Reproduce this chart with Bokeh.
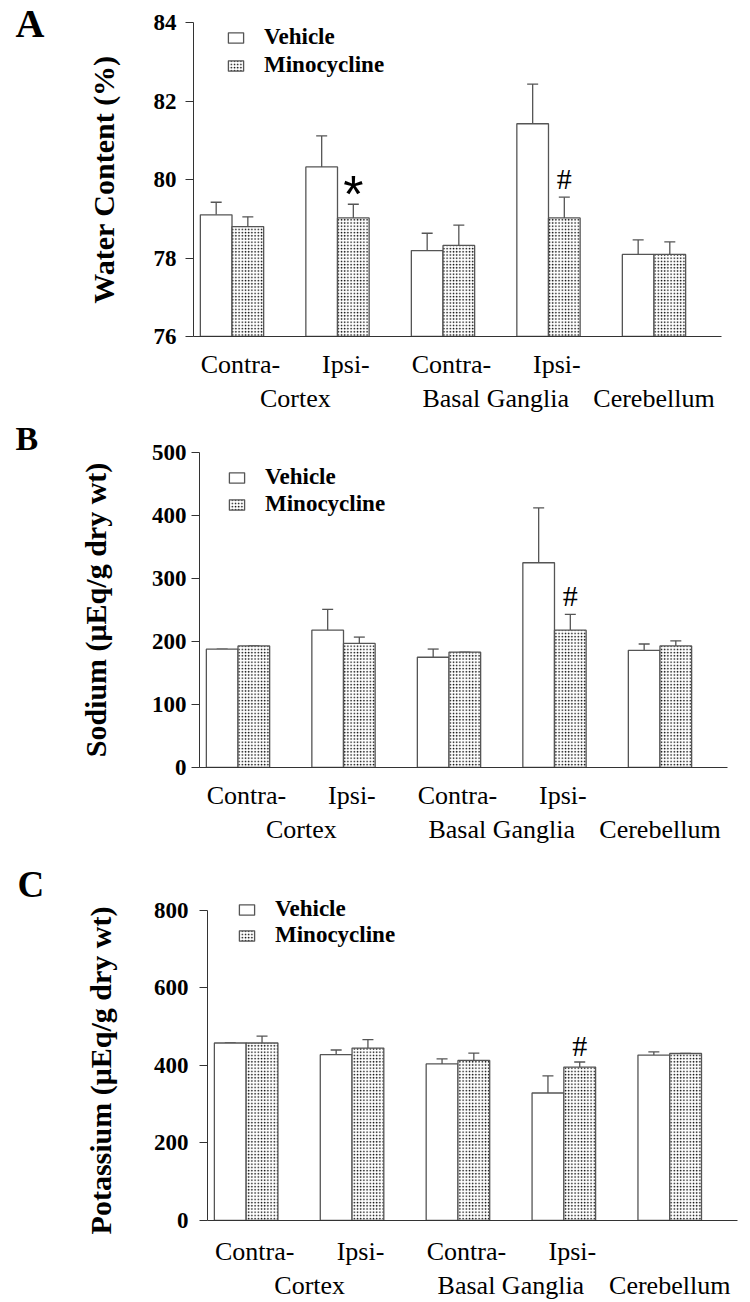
from bokeh.plotting import figure
from bokeh.layouts import column, row
from bokeh.models import (FixedTicker, LinearAxis, Range1d, Legend, LegendItem,
                          Label, ColumnDataSource)
from bokeh.core.properties import value
from bokeh.embed import file_html
from bokeh.resources import INLINE

# ---------------- data ----------------
group_pos = [1, 2, 3, 4, 5]
line1_labels = ["Contra-", "Ipsi-", "Contra-", "Ipsi-"]
line2_labels = ["Cortex", "Basal Ganglia", "Cerebellum"]
series = ["Vehicle", "Minocycline"]

water_vehicle = [79.10, 80.32, 78.19, 81.42, 78.09]
water_vehicle_top = [79.42, 81.11, 78.63, 82.43, 78.46]   # mean + SD
water_mino = [78.80, 79.02, 78.32, 79.02, 78.09]
water_mino_top = [79.05, 79.37, 78.84, 79.55, 78.41]
water_ticks = [76, 78, 80, 82, 84]
water_marks = ["*", "#"]
water_mark_groups = [2, 4]
water_mark_y = [79.82, 80.03]

sodium_vehicle = [188, 218, 175, 325, 186]
sodium_vehicle_top = [188, 251, 188, 412, 196]
sodium_mino = [193, 197, 183, 218, 193]
sodium_mino_top = [193, 207, 183, 243, 201]
sodium_ticks = [0, 100, 200, 300, 400, 500]
sodium_marks = ["#"]
sodium_mark_groups = [4]
sodium_mark_y = [273]

potassium_vehicle = [458, 428, 404, 329, 427]
potassium_vehicle_top = [458, 440, 417, 373, 435]
potassium_mino = [458, 445, 413, 396, 431]
potassium_mino_top = [476, 467, 432, 409, 431]
potassium_ticks = [0, 200, 400, 600, 800]
potassium_marks = ["#"]
potassium_mark_groups = [4]
potassium_mark_y = [452]

SERIF = "Liberation Serif"
EDGE = "#555555"
HALF = 0.15
LETTER_W = 45
NBSP = "\u00a0"


def letter_panel(letter, size, x, baseline, H):
    f = figure(width=LETTER_W, height=H, x_range=Range1d(0, 1), y_range=Range1d(0, 1),
               x_axis_location=None, y_axis_location=None, toolbar_location=None,
               output_backend="svg", min_border=0, outline_line_color=None,
               background_fill_color="white", border_fill_color="white")
    f.xgrid.visible = False
    f.ygrid.visible = False
    f.add_layout(Label(x=x, y=H - baseline, x_units="screen", y_units="screen",
                       text=letter, text_font=SERIF, text_font_style="bold",
                       text_font_size=size, text_baseline="alphabetic",
                       text_color="black"))
    return f


def make_panel(ylabel, veh, veh_top, mino, mino_top,
               yticks, y_end, marks, mark_groups, mark_y,
               frame_w, frame_h, b_left, b_right, b_top, b_bottom,
               tick_standoff, label_standoff, x_standoff, legend_xy, legend_spacing):
    ymin, ymax = yticks[0], yticks[-1]
    p = figure(frame_width=frame_w, frame_height=frame_h,
               min_border_left=b_left, min_border_right=b_right,
               min_border_top=b_top, min_border_bottom=b_bottom,
               x_range=Range1d(0.635, 5.64), y_range=Range1d(ymin, y_end),
               output_backend="svg", toolbar_location=None,
               background_fill_color="white", border_fill_color="white",
               outline_line_color=None)
    p.xgrid.visible = False
    p.ygrid.visible = False

    src_v = ColumnDataSource(dict(x=[g - HALF for g in group_pos], top=veh, err=veh_top))
    src_m = ColumnDataSource(dict(x=[g + HALF for g in group_pos], top=mino, err=mino_top))

    for src in (src_v, src_m):
        p.segment(x0="x", y0="top", x1="x", y1="err", source=src,
                  line_color=EDGE, line_width=1.3)
        p.scatter(x="x", y="err", marker="dash", size=11, source=src,
                  line_color=EDGE, line_width=1.3)

    r_v = p.vbar(x="x", top="top", bottom=ymin, width=2 * HALF, source=src_v,
                 fill_color="white", line_color=EDGE, line_width=1.3)
    r_m = p.vbar(x="x", top="top", bottom=ymin, width=2 * HALF, source=src_m,
                 fill_color="white", line_color=EDGE, line_width=1.3,
                 hatch_pattern="dot", hatch_color="#000000", hatch_scale=3.2,
                 hatch_weight=1.8)

    # significance marks
    mx = [g + HALF for g in mark_groups]
    for t, x, y in zip(marks, mx, mark_y):
        if t == "*":
            p.text(x=[x], y=[y], text=[t], text_font=value("Liberation Sans"),
                   text_font_size="52px", text_align="center", text_baseline="middle",
                   y_offset=7, text_color="black")
        else:
            p.text(x=[x], y=[y], text=[t], text_font=value(SERIF),
                   text_font_size="30px", text_align="center", text_baseline="middle",
                   text_color="black")

    # y axis
    ya = p.yaxis[0]
    ya.ticker = FixedTicker(ticks=yticks)
    ya.bounds = (ymin, ymax)
    ya.minor_tick_line_color = None
    ya.major_tick_in = 0
    ya.major_tick_out = 8
    ya.axis_line_color = "#333333"
    ya.major_tick_line_color = "#333333"
    ya.major_label_text_font = SERIF
    ya.major_label_text_font_style = "bold"
    ya.major_label_text_font_size = "23px"
    ya.major_label_text_color = "black"
    ya.major_label_standoff = tick_standoff
    ya.axis_label = ylabel
    ya.axis_label_text_font = SERIF
    ya.axis_label_text_font_style = "bold"
    ya.axis_label_text_font_size = "30px"
    ya.axis_label_text_color = "black"
    ya.axis_label_standoff = label_standoff

    # x axis: first line of category labels
    xa = p.xaxis[0]
    t1 = [g + 0.08 for g in group_pos[:4]]
    xa.ticker = FixedTicker(ticks=t1)
    xa.major_label_overrides = {t: s for t, s in zip(t1, line1_labels)}
    xa.minor_tick_line_color = None
    xa.major_tick_line_color = None
    xa.major_tick_in = 0
    xa.major_tick_out = 0
    xa.axis_line_color = "#333333"
    xa.major_label_text_font = SERIF
    xa.major_label_text_font_size = "26px"
    xa.major_label_text_color = "black"
    xa.major_label_standoff = x_standoff

    # second line of category labels
    t2 = [(group_pos[0] + group_pos[1]) / 2 + 0.1,
          (group_pos[2] + group_pos[3]) / 2,
          group_pos[4]]
    xb = LinearAxis(ticker=FixedTicker(ticks=t2),
                    major_label_overrides={t: s for t, s in zip(t2, line2_labels)})
    xb.axis_line_color = None
    xb.major_tick_line_color = None
    xb.minor_tick_line_color = None
    xb.major_tick_in = 0
    xb.major_tick_out = 0
    xb.major_label_text_font = SERIF
    xb.major_label_text_font_size = "26px"
    xb.major_label_text_color = "black"
    xb.major_label_standoff = 2
    p.add_layout(xb, "below")

    legend = Legend(items=[LegendItem(label=series[0], renderers=[r_v]),
                           LegendItem(label=series[1], renderers=[r_m])],
                    location=legend_xy, orientation="vertical",
                    glyph_width=19, glyph_height=13, label_standoff=19,
                    spacing=legend_spacing, padding=0, margin=0,
                    border_line_color=None, background_fill_alpha=0,
                    label_text_font=SERIF, label_text_font_style="bold",
                    label_text_font_size="23px", label_text_color="black",
                    label_height=13)
    p.add_layout(legend)
    return p


HA, HB, HC = 420, 438, 442

pA = make_panel("Water Content (%)",
                water_vehicle, water_vehicle_top, water_mino, water_mino_top,
                water_ticks, 84, water_marks, water_mark_groups, water_mark_y,
                528, 314, 193 - LETTER_W, 29, 22, 84, 9, 31, 13, (33, 258), 2)
pB = make_panel("Sodium (μEq/g dry wt)",
                sodium_vehicle, sodium_vehicle_top, sodium_mino, sodium_mino_top,
                sodium_ticks, 500, sodium_marks, sodium_mark_groups, sodium_mark_y,
                528, 315, 199 - LETTER_W, 23, 32, 91, 5, 37, 13, (28, 250), 1)
pC = make_panel("Potassium (μEq/g dry wt)" + NBSP * 4,
                potassium_vehicle, potassium_vehicle_top, potassium_mino, potassium_mino_top,
                potassium_ticks, 851.6, potassium_marks, potassium_mark_groups, potassium_mark_y,
                530, 330, 207 - LETTER_W, 13, 32, 80, 11, 34, 16, (30, 272), 0)

lA = letter_panel("A", "40px", 15, 23, HA)
lB = letter_panel("B", "34px", 15, 18, HB)
lC = letter_panel("C", "37px", 17, 26, HC)

layout = column(row(column(lA), column(pA)),
                row(column(lB), column(pB)),
                row(column(lC), column(pC)), spacing=0)
open("out.html", "w").write(file_html(layout, INLINE))
